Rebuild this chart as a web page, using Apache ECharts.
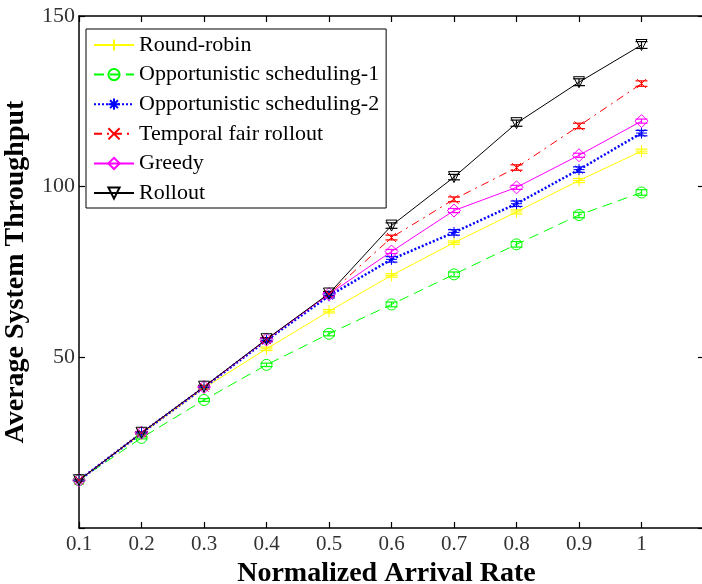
<!DOCTYPE html>
<html><head><meta charset="utf-8">
<script src="https://cdn.jsdelivr.net/npm/echarts@6/dist/echarts.min.js"></script>
<style>html,body{margin:0;padding:0;background:#fff}#c{width:702px;height:584px}</style>
</head><body><div id="c"></div>
<script>
const xs = [0.1,0.2,0.3,0.4,0.5,0.6,0.7,0.8,0.9,1.0];
const roundRobin = [14.0,27.6,41.0,52.5,63.5,74.0,83.6,92.6,101.8,110.4];
const opp1       = [14.0,26.4,37.5,47.8,56.9,65.5,74.3,83.1,91.7,98.3];
const opp2       = [14.0,27.8,41.2,55.0,68.0,78.7,86.6,95.0,105.0,115.7];
const temporal   = [14.0,27.9,41.3,55.2,68.5,85.1,96.3,105.6,117.8,130.2];
const greedy     = [14.0,27.9,41.3,55.2,68.5,81.0,93.0,99.8,109.2,119.2];
const rollout    = [14.0,27.9,41.4,55.3,68.7,88.6,102.8,118.6,130.6,141.5];
const errRR  = [0.2,0.3,0.4,0.5,0.5,0.5,0.5,0.6,0.6,0.6];
const errO1  = [0.2,0.3,0.4,0.5,0.6,0.7,0.7,0.8,0.8,0.8];
const errO2  = [0.2,0.3,0.4,0.5,0.6,0.8,0.8,0.8,0.8,0.8];
const errTF  = [0.2,0.3,0.4,0.5,0.6,0.7,0.7,0.8,0.8,0.8];
const errGR  = [0.2,0.3,0.4,0.5,0.5,0.6,0.6,0.6,0.6,0.6];
const errRO  = [0.2,0.3,0.4,0.5,0.6,0.8,0.8,0.9,1.0,1.0];
const names = ['Round-robin','Opportunistic scheduling-1','Opportunistic scheduling-2','Temporal fair rollout','Greedy','Rollout'];
const xTicks = [0.1,0.2,0.3,0.4,0.5,0.6,0.7,0.8,0.9,1];
const yTicks = [50,100,150];

const SYM_PLUS = 'path://M0,6H12M6,0V12';
const SYM_X = 'path://M0,0L10,10M10,0L0,10';
const SYM_STAR = 'path://M5,0V10M0,5H10M1.5,1.5L8.5,8.5M8.5,1.5L1.5,8.5';

const defs = [
  {name:names[0], data:roundRobin, err:errRR, color:'#ffff00', type:'solid', width:1, symbol:SYM_PLUS, size:12},
  {name:names[1], data:opp1, err:errO1, color:'#00ff00', type:[10,6], width:1, symbol:'circle', size:11},
  {name:names[2], data:opp2, err:errO2, color:'#0000ff', type:[2,2], width:2.5, symbol:SYM_STAR, size:11},
  {name:names[3], data:temporal, err:errTF, color:'#ff0000', type:[8,5,2,5], width:1, symbol:SYM_X, size:9},
  {name:names[4], data:greedy, err:errGR, color:'#ff00ff', type:'solid', width:1, symbol:'diamond', size:13},
  {name:names[5], data:rollout, err:errRO, color:'#000000', type:'solid', width:1, symbol:'triangle', size:11, rotate:180}
];

const series = [];
defs.forEach(d => {
  series.push({
    name: d.name, type:'line', data: xs.map((x,i)=>[x,d.data[i]]),
    symbol: d.symbol, symbolSize: d.size, symbolRotate: d.rotate||0,
    color: d.color,
    lineStyle:{color:d.color, type:d.type, width:d.width},
    itemStyle:{color:'rgba(255,255,255,0)', borderColor:d.color, borderWidth:1},
    emphasis:{disabled:true}, animation:false
  });
  series.push({
    type:'custom', name: d.name+'-err', animation:false, silent:true,
    data: xs.map((x,i)=>[x,d.data[i],d.err[i]]),
    renderItem: function(params, api){
      const x = api.value(0), y = api.value(1), e = api.value(2);
      const top = api.coord([x, y+e]), bot = api.coord([x, y-e]);
      const hw = 6;
      const st = {stroke:d.color, lineWidth:1.2};
      return {type:'group', children:[
        {type:'line', shape:{x1:top[0],y1:top[1],x2:bot[0],y2:bot[1]}, style:st},
        {type:'line', shape:{x1:top[0]-hw,y1:top[1],x2:top[0]+hw,y2:top[1]}, style:st},
        {type:'line', shape:{x1:bot[0]-hw,y1:bot[1],x2:bot[0]+hw,y2:bot[1]}, style:st}
      ]};
    }
  });
});

const font = '"Liberation Serif", "Times New Roman", serif';
const chart = echarts.init(document.getElementById('c'), null, {renderer:'canvas'});
chart.setOption({
  animation:false,
  backgroundColor:'#fff',
  grid:{left:79, top:16, right:-2, bottom:56, show:false, containLabel:false, outerBoundsMode:'none'},
  legend:{
    data:names, orient:'vertical', left:86, top:29,
    backgroundColor:'#fff', borderColor:'#000', borderWidth:1, borderRadius:0,
    padding:[5,7,4,7], itemWidth:40, itemHeight:14, itemGap:7.6,
    textStyle:{fontFamily:font, fontSize:22, color:'#000'},
    selectedMode:false
  },
  xAxis:[{
    type:'value', min:0.1, max:1.1, interval:0.1, position:'bottom',
    name:'Normalized Arrival Rate', nameLocation:'middle', nameGap:32,
    nameTextStyle:{fontFamily:font, fontSize:28, fontWeight:'bold', color:'#000', padding:[0,10,0,0]},
    axisLine:{show:true, lineStyle:{color:'#000', width:1.5}},
    axisTick:{show:true, inside:true, length:6, lineStyle:{color:'#000', width:1.2}},
    axisLabel:{fontFamily:font, fontSize:21, color:'#333', margin:6,
      formatter: v => { const r = Math.round(v*10)/10; return xTicks.indexOf(r)>=0 ? String(r) : ''; }},
    splitLine:{show:false}
  },{
    type:'value', min:0.1, max:1.1, interval:0.1, position:'top',
    axisLine:{show:true, onZero:false, lineStyle:{color:'#000', width:1.5}},
    axisTick:{show:true, inside:true, length:6, lineStyle:{color:'#000', width:1.2}},
    axisLabel:{show:false}, splitLine:{show:false}
  }],
  yAxis:[{
    type:'value', min:0, max:150, interval:50, position:'left',
    name:'Average System Throughput', nameLocation:'middle', nameGap:49,
    nameTextStyle:{fontFamily:font, fontSize:28, fontWeight:'bold', color:'#000'},
    axisLine:{show:true, lineStyle:{color:'#000', width:1.5}},
    axisTick:{show:true, inside:true, length:6, lineStyle:{color:'#000', width:1.2}},
    axisLabel:{fontFamily:font, fontSize:22, color:'#333', margin:4,
      formatter: v => yTicks.indexOf(v)>=0 ? String(v) : ''},
    splitLine:{show:false}
  },{
    type:'value', min:0, max:150, interval:50, position:'right',
    axisLine:{show:true, onZero:false, lineStyle:{color:'#000', width:1.5}},
    axisTick:{show:true, inside:true, length:6, lineStyle:{color:'#000', width:1.2}},
    axisLabel:{show:false}, splitLine:{show:false}
  }],
  series: series
});
</script></body></html>
